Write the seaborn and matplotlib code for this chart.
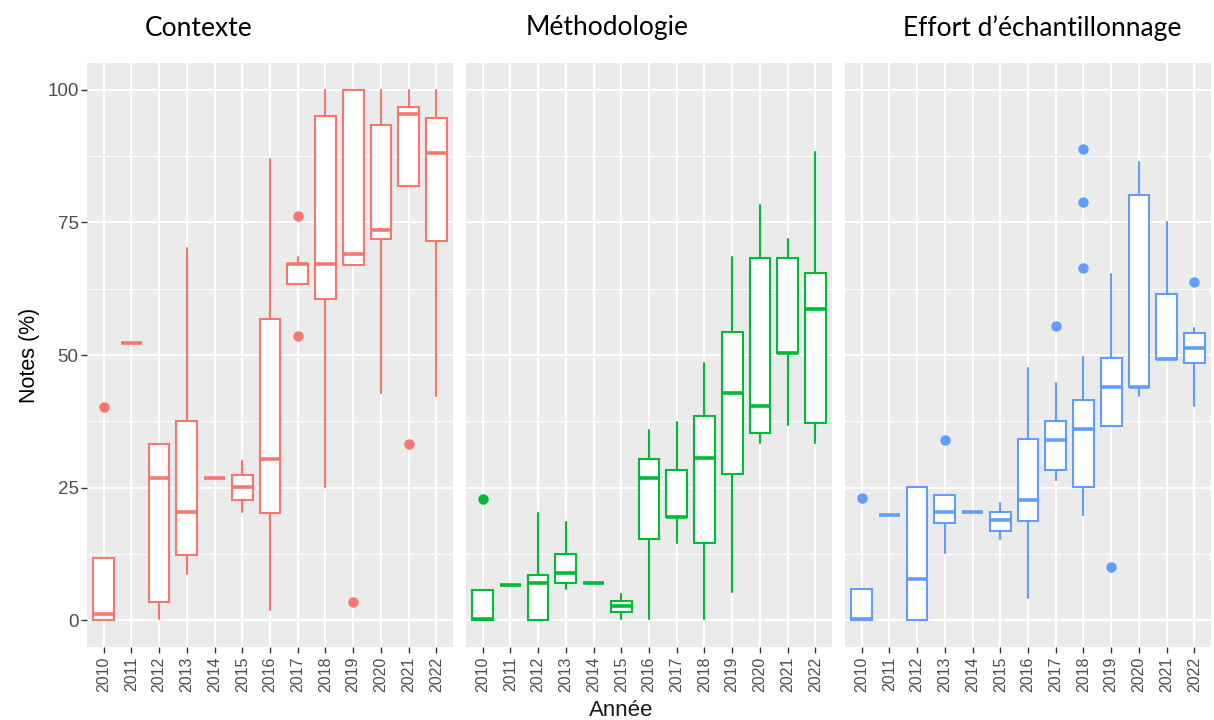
import matplotlib
matplotlib.use("Agg")
import matplotlib.pyplot as plt
import matplotlib.transforms as mtransforms
import seaborn as sns
import numpy as np

years = ["2010", "2011", "2012", "2013", "2014", "2015", "2016",
         "2017", "2018", "2019", "2020", "2021", "2022"]

panels = ["Contexte", "Méthodologie", "Effort d\u2019échantillonnage"]
colors = ["#F8766D", "#00BA38", "#619CFF"]

# Box statistics per panel: whisker low, q1, median, q3, whisker high, outliers
ctx_wlo = [0, 52.3, 0.2, 8.8, 26.9, 20.4, 1.9, 63.4, 25.2, 66.9, 42.9, 81.8, 42.2]
ctx_q1 = [0, 52.3, 3.5, 12.3, 26.9, 22.6, 20.3, 63.4, 60.6, 66.9, 71.8, 81.8, 71.5]
ctx_med = [1.3, 52.3, 26.9, 20.4, 26.9, 25.2, 30.5, 67.1, 67.1, 69.1, 73.6, 95.3, 88.0]
ctx_q3 = [11.7, 52.3, 33.3, 37.6, 26.9, 27.4, 56.7, 67.1, 95.0, 100, 93.4, 96.8, 94.6]
ctx_whi = [11.7, 52.3, 33.3, 70.2, 26.9, 30.0, 86.9, 68.4, 100, 100, 100, 100, 100]
ctx_out = [[40.2], [], [], [], [], [], [], [76.1, 53.5], [], [3.5], [], [33.3], []]

met_wlo = [0, 6.7, 0, 5.9, 7.0, 0.2, 0.2, 14.5, 0.2, 5.3, 33.5, 36.9, 33.5]
met_q1 = [0, 6.7, 0, 7.1, 7.0, 1.5, 15.3, 19.4, 14.5, 27.6, 35.3, 50.3, 37.1]
met_med = [0.2, 6.7, 7.0, 9.0, 7.0, 2.8, 26.9, 19.4, 30.6, 42.9, 40.4, 50.3, 58.6]
met_q3 = [5.7, 6.7, 8.6, 12.5, 7.0, 3.7, 30.5, 28.4, 38.5, 54.4, 68.3, 68.3, 65.5]
met_whi = [5.7, 6.7, 20.3, 18.5, 7.0, 4.9, 35.9, 37.3, 48.4, 68.4, 78.3, 71.8, 88.3]
met_out = [[22.8], [], [], [], [], [], [], [], [], [], [], [], []]

eff_wlo = [0, 19.8, 0, 12.7, 20.5, 15.3, 4.2, 26.5, 19.9, 36.7, 42.2, 49.2, 40.4]
eff_q1 = [0, 19.8, 0, 18.3, 20.5, 16.8, 18.8, 28.3, 25.1, 36.7, 44.0, 49.2, 48.4]
eff_med = [0.2, 19.8, 7.9, 20.5, 20.5, 19.0, 22.7, 34.0, 36.0, 43.9, 44.0, 49.2, 51.4]
eff_q3 = [5.9, 19.8, 25.1, 23.6, 20.5, 20.5, 34.2, 37.6, 41.5, 49.5, 80.1, 61.5, 54.2]
eff_whi = [5.9, 19.8, 25.1, 23.6, 20.5, 22.2, 47.6, 44.8, 49.6, 65.2, 86.3, 75.1, 55.0]
eff_out = [[23.1], [], [], [33.9], [], [], [], [55.5], [88.8, 78.9, 66.4], [10.0], [], [], [63.8]]

y_ticks = [0, 25, 50, 75, 100]

stats_sets = [
    (ctx_wlo, ctx_q1, ctx_med, ctx_q3, ctx_whi, ctx_out),
    (met_wlo, met_q1, met_med, met_q3, met_whi, met_out),
    (eff_wlo, eff_q1, eff_med, eff_q3, eff_whi, eff_out),
]

sns.set_theme(style="darkgrid", rc={
    "axes.facecolor": "#EBEBEB",
    "grid.color": "white",
    "axes.edgecolor": "none",
})
plt.rcParams["font.family"] = ["Liberation Sans", "DejaVu Sans"]
ARIAL = ["Liberation Sans", "DejaVu Sans"]

fig = plt.figure(figsize=(12.14, 7.2), dpi=100)
W, H = 1214.0, 720.0
lefts = [87, 466, 845]
pw = 366
top_px, bot_px = 63, 647
axes = []
for i in range(3):
    ax = fig.add_axes([lefts[i] / W, 1 - bot_px / H, pw / W, (bot_px - top_px) / H])
    axes.append(ax)

title_x = [199, 607, 1042]
shift = mtransforms.ScaledTranslation(9 / 100.0, 0, fig.dpi_scale_trans)
for i, ax in enumerate(axes):
    wlo, q1, med, q3, whi, outs = stats_sets[i]
    col = colors[i]
    bxps = []
    for j in range(len(years)):
        bxps.append(dict(whislo=wlo[j], q1=q1[j], med=med[j], q3=q3[j],
                         whishi=whi[j], fliers=outs[j], label=years[j]))
    pos = np.arange(len(years))
    ax.bxp(bxps, positions=pos, widths=0.75, patch_artist=True, showcaps=False,
           boxprops=dict(facecolor="white", edgecolor=col, linewidth=1.5),
           medianprops=dict(color=col, linewidth=2.6),
           whiskerprops=dict(color=col, linewidth=1.5),
           flierprops=dict(marker="o", markerfacecolor=col, markeredgecolor=col,
                           markersize=6.5, linestyle="none"))
    ax.set_xlim(-0.6, len(years) - 0.4)
    ax.set_ylim(-5, 105)
    ax.set_yticks(y_ticks)
    ax.set_yticks([12.5, 37.5, 62.5, 87.5], minor=True)
    ax.set_xticks(pos)
    ax.set_xticklabels(years, rotation=90, color="#4D4D4D", fontsize=11.5,
                       family=ARIAL)
    for lab in ax.get_xticklabels():
        lab.set_transform(lab.get_transform() + shift)
    ax.grid(True, which="major", color="white", linewidth=1.4)
    ax.grid(True, which="minor", axis="y", color="white", linewidth=0.7)
    ax.tick_params(axis="x", which="major", length=4, width=1, color="#333333",
                   bottom=True, pad=3)
    ax.tick_params(axis="y", which="minor", length=0)
    if i == 0:
        ax.set_yticklabels([str(t) for t in y_ticks], color="#4D4D4D", fontsize=13.5,
                           family=ARIAL)
        ax.tick_params(axis="y", which="major", length=4, width=1, color="#333333",
                       left=True, pad=2)
        ax.set_ylabel("Notes (%)", fontsize=15.5, color="black", labelpad=5,
                      family=ARIAL)
    else:
        ax.set_yticklabels([])
        ax.tick_params(axis="y", which="major", length=0)
    ax.set_axisbelow(True)
    fig.text(title_x[i] / W, 1 - 28 / H, panels[i], ha="center", va="center",
             fontsize=19, family=["Lato", "DejaVu Sans"], color="black")

fig.text(621 / W, 1 - 710 / H, "Année", ha="center", va="center", fontsize=16,
         color="#1A1A1A", family=ARIAL)

fig.savefig("out.png", dpi=100)
